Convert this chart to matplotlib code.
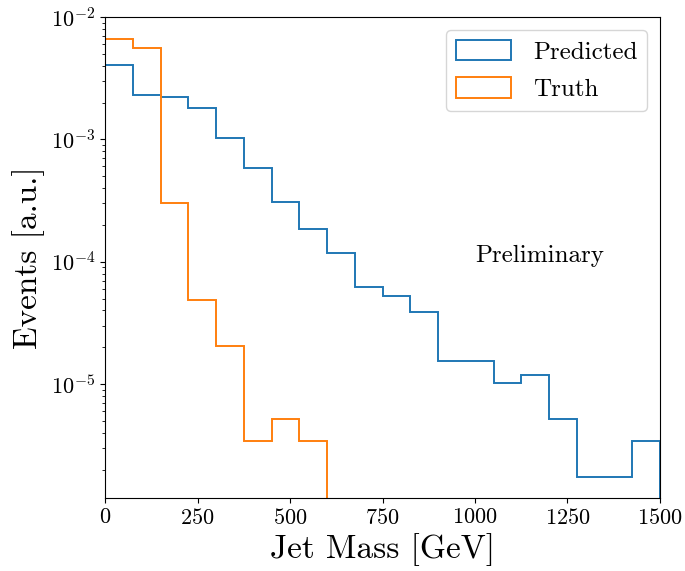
import numpy as np
import matplotlib
matplotlib.use("Agg")
import matplotlib.pyplot as plt

plt.rcParams["font.family"] = "serif"
plt.rcParams["font.serif"] = ["cmr10"]
plt.rcParams["mathtext.fontset"] = "cm"
plt.rcParams["axes.formatter.use_mathtext"] = True
plt.rcParams["axes.unicode_minus"] = False

# bin edges, 75 GeV wide
edges = np.arange(0, 1501, 75)
centers = 0.5 * (edges[:-1] + edges[1:])

predicted = [4.05e-3, 2.30e-3, 2.20e-3, 1.80e-3, 1.03e-3, 5.86e-4, 3.07e-4,
             1.84e-4, 1.18e-4, 6.24e-5, 5.26e-5, 3.87e-5, 1.54e-5, 1.54e-5,
             1.02e-5, 1.19e-5, 5.16e-6, 1.73e-6, 1.73e-6, 3.43e-6]
truth = [6.65e-3, 5.61e-3, 3.03e-4, 4.88e-5, 2.04e-5, 3.43e-6, 5.2e-6, 3.43e-6]
truth_edges = edges[:len(truth) + 1]

fig = plt.figure(figsize=(6.85, 5.71), dpi=100)
ax = fig.add_axes([0.1533, 0.1278, 0.8102, 0.8424])

ax.hist(centers, bins=edges, weights=predicted, histtype="step",
        linewidth=1.4, color="C0", label="Predicted")
ax.hist(centers[:len(truth)], bins=truth_edges, weights=truth, histtype="step",
        linewidth=1.4, color="C1", label="Truth")

ax.set_yscale("log")
ax.set_xlim(0, 1500)
ax.set_ylim(1.17e-6, 1e-2)
ax.set_xticks([0, 250, 500, 750, 1000, 1250, 1500])
ax.tick_params(labelsize=16)

ax.set_xlabel("Jet Mass [GeV]", fontsize=24)
ax.set_ylabel("Events [a.u.]", fontsize=24)
ax.text(1000, 1e-4, "Preliminary", fontsize=18)
ax.legend(loc="upper right", fontsize=18, handlelength=2.2, handleheight=0.9,
          handletextpad=0.9, labelspacing=0.55)

fig.savefig("out.png")
